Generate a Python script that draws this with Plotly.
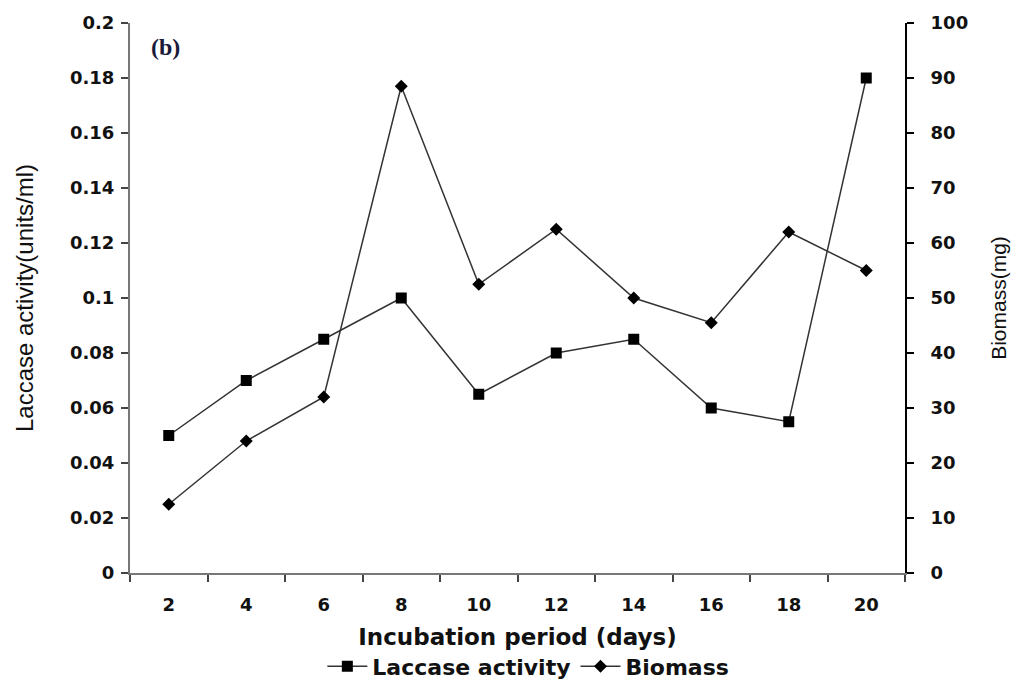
import plotly.graph_objects as go

days = ["2", "4", "6", "8", "10", "12", "14", "16", "18", "20"]
laccase = [0.05, 0.07, 0.085, 0.10, 0.065, 0.08, 0.085, 0.06, 0.055, 0.18]
biomass = [12.5, 24, 32, 88.5, 52.5, 62.5, 50, 45.5, 62, 55]
boundaries = [i - 0.5 for i in range(len(days) + 1)]

BOLD = "DejaVu Sans"
txt = "#111111"
gray = "#777777"

fig = go.Figure()
fig.add_trace(go.Scatter(
    x=days, y=laccase, name="Laccase activity", mode="lines+markers",
    line=dict(color="#333333", width=1.5),
    marker=dict(symbol="square", size=11, color="black"),
    xaxis="x", yaxis="y"))
fig.add_trace(go.Scatter(
    x=days, y=biomass, name="Biomass", mode="lines+markers",
    line=dict(color="#333333", width=1.5),
    marker=dict(symbol="diamond", size=10, color="black"),
    xaxis="x", yaxis="y2"))

fig.update_layout(
    width=1013, height=678,
    margin=dict(l=122, r=116, t=15, b=113, autoexpand=False),
    paper_bgcolor="white", plot_bgcolor="white",
    font=dict(family=BOLD, size=18, color=txt),
    showlegend=True,
    legend=dict(orientation="h", x=0.514, xanchor="center", y=-0.17, yanchor="middle",
                font=dict(family=BOLD, size=22, color=txt, weight="bold"),
                itemwidth=40, tracegroupgap=0, bgcolor="rgba(0,0,0,0)"),
    xaxis=dict(type="category", categoryorder="array", categoryarray=days,
               range=[-0.5, len(days) - 0.5], automargin=False,
               showline=True, linecolor=gray, linewidth=2,
               ticks="outside", ticklen=7, tickwidth=2, tickcolor="#444",
               tickson="boundaries", showgrid=False, zeroline=False,
               ticklabelstandoff=14,
               tickfont=dict(family=BOLD, size=18, color=txt, weight="bold"),
               title=dict(text="Incubation period (days)", standoff=15,
                          font=dict(family=BOLD, size=23, color=txt, weight="bold"))),
    xaxis2=dict(overlaying="x", anchor="y", side="bottom", type="linear",
                range=[-0.5, len(days) - 0.5], tickmode="array", tickvals=boundaries,
                ticks="inside", ticklen=7, tickwidth=2, tickcolor="#444",
                showticklabels=False, showline=False, showgrid=False, zeroline=False),
    xaxis3=dict(overlaying="x", anchor="y", side="top", type="linear",
                range=[-0.5, len(days) - 0.5], showline=True, linecolor="black",
                linewidth=2, ticks="", showticklabels=False, showgrid=False,
                zeroline=False),
    yaxis=dict(range=[0, 0.2], dtick=0.02, tick0=0, automargin=False,
               showline=True, linecolor=gray, linewidth=2,
               ticks="outside", ticklen=7, tickwidth=2, tickcolor="#444",
               showgrid=False, zeroline=False, ticklabelstandoff=3,
               tickfont=dict(family=BOLD, size=18, color=txt, weight="bold"),
               title=dict(text="Laccase activity(units/ml)", standoff=30,
                          font=dict(family="Liberation Sans", size=24, color=txt))),
    yaxis2=dict(range=[0, 100], dtick=10, tick0=0, overlaying="y", side="right",
                anchor="x", automargin=False,
                showline=True, linecolor="black", linewidth=2,
                ticks="outside", ticklen=7, tickwidth=2, tickcolor="black",
                showgrid=False, zeroline=False, ticklabelstandoff=13,
                tickfont=dict(family=BOLD, size=18, color=txt, weight="bold"),
                title=dict(text="Biomass(mg)", standoff=24,
                           font=dict(family="Liberation Sans", size=21, color=txt))),
    yaxis3=dict(range=[0, 0.2], dtick=0.02, tick0=0, overlaying="y", side="left",
                anchor="x", ticks="inside", ticklen=7, tickwidth=2, tickcolor="#444",
                showticklabels=False, showline=False, showgrid=False, zeroline=False),
    yaxis4=dict(range=[0, 100], dtick=10, tick0=0, overlaying="y", side="right",
                anchor="x", ticks="inside", ticklen=7, tickwidth=2, tickcolor="black",
                showticklabels=False, showline=False, showgrid=False, zeroline=False),
    annotations=[dict(text="<b>(b)</b>", xref="paper", yref="paper", x=0.024, y=0.956,
                      xanchor="left", yanchor="middle", showarrow=False,
                      font=dict(family="Liberation Serif", size=24, color="#1a1a3a"))],
)

fig.write_html("out.html")
